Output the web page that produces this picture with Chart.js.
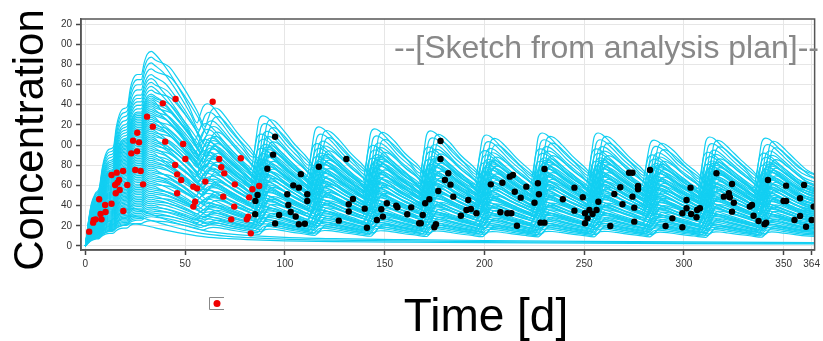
<!DOCTYPE html>
<html>
<head>
<meta charset="utf-8">
<script src="https://cdn.jsdelivr.net/npm/chart.js@4.4.1/dist/chart.umd.min.js"></script>
<style>
  html, body { margin: 0; padding: 0; background: #fff; }
  #wrap { width: 823px; height: 341px; position: relative; }
</style>
</head>
<body>
<div id="wrap"><canvas id="pkChart" width="823" height="341"></canvas></div>
<script>
// ──── data ─────────────────────────────────────────────────────

const xTickValues = [0, 50, 100, 150, 200, 250, 300, 350, 364];
const yTickValues = [0, 20, 40, 60, 80, 100, 120, 140, 160, 180, 200, 220];
// the left digits are cut off in the sketch
const yTickLabels = ["0", "20", "40", "60", "80", "00", "20", "40", "60", "80", "00", "20"];

// top simulated profile [day, concentration]: weekly loading, then every 28 days
const refProfile = [
  [0, 0], [1.5, 24], [3, 42], [5, 52], [7, 58],
  [8.5, 78], [10, 90], [12, 96], [14, 98],
  [15.5, 118], [17, 130], [19, 136], [21, 138],
  [22.5, 156], [24, 166], [26, 170], [28, 170],
  [29.5, 182], [31, 190], [33, 193], [35, 190],
  [38, 183], [42, 172], [47, 156], [52, 138],
  [56, 122], [57.5, 130], [59, 138], [61, 141], [63, 139.5], [67, 130], [72, 116], [78, 102],
  [84, 88], [85.5, 106], [87, 125], [89, 129], [91, 127.5], [95, 119], [100, 106], [106, 93],
  [112, 80], [113.5, 97], [115, 114], [117, 118], [119, 116.5], [123, 109], [128, 97], [134, 85],
  [140, 74], [141.5, 93], [143, 112], [145, 116], [147, 114.5], [151, 107], [156, 95], [162, 84],
  [168, 72], [169.5, 91], [171, 110], [173, 114], [175, 112.5], [179, 105], [184, 93], [190, 82],
  [196, 71], [197.5, 89], [199, 106], [201, 110], [203, 108.5], [207, 101], [212, 90], [218, 79],
  [224, 69], [225.5, 88], [227, 108], [229, 112], [231, 110.5], [235, 103], [240, 92], [246, 81],
  [252, 70], [253.5, 89], [255, 108], [257, 112], [259, 110.5], [263, 103], [268, 92], [274, 81],
  [280, 70], [281.5, 86], [283, 101], [285, 105], [287, 103.5], [291, 97], [296, 86], [302, 76],
  [308, 66], [309.5, 85], [311, 104], [313, 108], [315, 106.5], [319, 99], [324, 89], [330, 78],
  [336, 67], [337.5, 85], [339, 103], [341, 107], [343, 105.5], [347, 98], [352, 88], [358, 77], [366, 70]
];

// each simulated subject: level relative to the top profile, and dose-day offset
const subjectLevel = [
  1.0, 0.97, 0.94, 0.91, 0.88, 0.86, 0.84, 0.82, 0.8, 0.78,
  0.77, 0.76, 0.75, 0.74, 0.73, 0.72, 0.71, 0.7, 0.69, 0.68,
  0.67, 0.66, 0.65, 0.64, 0.63, 0.62, 0.61, 0.6, 0.59, 0.58,
  0.57, 0.56, 0.55, 0.54, 0.53, 0.52, 0.51, 0.5, 0.49, 0.48,
  0.47, 0.46, 0.45, 0.44, 0.43, 0.42, 0.41, 0.4, 0.39, 0.38,
  0.37, 0.36, 0.35, 0.34, 0.33, 0.32, 0.31, 0.3, 0.29, 0.28,
  0.27, 0.26, 0.25, 0.24, 0.23, 0.22, 0.21, 0.2, 0.19, 0.18,
  0.17, 0.16, 0.15, 0.13
];
const subjectShift = [
  0, 4, 1, 5, 2, -1, 3, 0, 5, 1,
  4, 2, -1, 3, 1, 5, 0, 4, 2, 3,
  -1, 1, 5, 0, 4, 2, 3, 0, 5, 1,
  4, -1, 2, 3, 1, 5, 0, 4, 2, -1,
  3, 0, 5, 1, 4, 2, 3, -1, 1, 5,
  0, 4, 2, 3, 0, 5, -1, 1, 4, 2,
  3, 0, 5, 1, 4, 2, -1, 3, 0, 5,
  1, 4, 2, 3
];

// subjects that only got the loading doses and wash out
const washoutProfile = [
  [0, 0], [3, 9], [7, 15], [10, 22], [14, 27], [17, 32], [21, 36], [24, 37], [28, 35],
  [35, 30], [42, 25], [50, 20], [60, 15], [72, 12], [85, 10], [100, 8.5], [125, 7.2],
  [160, 6.2], [200, 5.4], [250, 4.6], [300, 4], [366, 3.4]
];
const washoutLevel = [1.0, 0.8, 0.6];

// observed concentrations, loading phase (red)
const redDay = [
  1.9, 3.9, 4.2, 5.2, 7.6, 8.1, 6.9, 9.9, 10.1, 13.1,
  13.1, 14.9, 15.2, 15.7, 16.1, 16.9, 17.2, 18.9, 19.0, 21.0,
  23.0, 23.9, 25.0, 26.0, 25.9, 26.9, 27.7, 28.9, 30.9, 33.8,
  38.8, 45.2, 40.0, 45.0, 46.0, 46.0, 48.0, 49.0, 50.1, 54.1,
  56.0, 55.0, 54.1, 60.1, 63.8, 67.1, 68.1, 69.6, 69.1, 74.9,
  74.6, 73.1, 77.9, 80.9, 81.6, 82.1, 83.7, 87.1, 82.9
];
const redConc = [
  14.2, 23.1, 25.8, 26.4, 31.7, 26.4, 46.3, 40.6, 33.7, 41.9,
  70.4, 60.5, 52.2, 72.7, 62.8, 65.4, 55.5, 74.3, 34.7, 60.5,
  91.8, 104.4, 75.3, 112.3, 93.8, 102.7, 74.3, 61.1, 128.2, 118.3,
  141.4, 145.7, 103.4, 80.3, 71.0, 52.2, 65.4, 101.1, 86.2, 58.8,
  57.1, 43.9, 39.0, 63.8, 143.0, 86.2, 78.0, 72.0, 48.9, 61.1,
  39.0, 26.4, 86.9, 26.4, 29.1, 48.2, 56.2, 59.5, 12.5
];

// observed concentrations, maintenance phase (black)
const blackDay = [
  95.1, 94.1, 91.2, 86.3, 85.2, 85.1, 95.1, 97.1, 101.2, 101.7,
  102.9, 104.2, 107.0, 108.0, 105.4, 107.0, 110.0, 111.2, 111.2, 117.0,
  127.0, 130.8, 132.0, 132.0, 134.1, 140.0, 141.1, 146.1, 148.3, 149.1,
  151.1, 155.8, 156.4, 161.3, 163.3, 167.3, 168.1, 169.1, 170.3, 172.4,
  174.9, 175.7, 176.9, 178.0, 178.0, 180.2, 181.9, 183.0, 184.4, 188.2,
  191.0, 191.9, 193.2, 196.0, 203.2, 208.0, 209.0, 211.5, 212.7, 213.5,
  214.3, 215.2, 216.3, 218.2, 221.0, 230.1, 226.8, 227.3, 225.1, 228.1,
  230.1, 239.3, 245.1, 245.1, 249.3, 250.4, 250.4, 251.7, 252.6, 254.2,
  256.2, 257.1, 263.1, 265.1, 268.1, 269.2, 272.5, 274.2, 274.2, 275.1,
  275.1, 277.0, 277.0, 283.0, 290.8, 294.2, 299.2, 299.2, 301.3, 301.3,
  303.3, 303.6, 306.3, 306.6, 308.0, 316.3, 320.0, 322.5, 323.0, 324.1,
  324.1, 325.0, 333.0, 334.1, 334.9, 337.4, 340.4, 341.2, 342.1, 349.9,
  351.2, 351.2, 355.4, 358.2, 358.2, 360.2, 361.2, 364.0, 365.0
];
const blackConc = [
  108.3, 90.5, 76.5, 50.5, 44.6, 31.4, 22.2, 30.7, 51.2, 40.6,
  33.7, 60.1, 57.8, 71.2, 29.2, 21.5, 22.0, 51.3, 44.6, 78.6,
  25.1, 86.2, 41.3, 34.1, 46.6, 37.0, 18.1, 25.8, 36.4, 29.1,
  42.3, 40.0, 38.3, 31.4, 38.3, 22.5, 22.5, 30.7, 42.3, 46.3,
  18.5, 21.5, 54.5, 104.1, 86.2, 65.4, 72.1, 60.8, 48.9, 30.0,
  35.7, 45.6, 36.7, 32.4, 61.1, 33.4, 62.7, 32.4, 68.7, 32.4,
  70.4, 53.8, 20.1, 47.9, 58.8, 76.3, 62.1, 51.2, 42.9, 23.1,
  23.1, 46.3, 57.8, 35.0, 48.3, 32.4, 22.5, 27.4, 35.7, 31.7,
  35.7, 43.9, 19.8, 51.5, 58.2, 41.3, 72.6, 72.6, 48.9, 38.0,
  24.1, 59.5, 56.2, 75.3, 19.8, 27.4, 18.5, 32.4, 45.6, 37.4,
  57.8, 31.7, 28.4, 35.7, 37.4, 72.1, 48.9, 52.2, 48.3, 61.4,
  34.0, 42.9, 39.0, 40.6, 30.0, 24.8, 21.5, 23.1, 65.4, 44.6,
  44.6, 59.8, 25.8, 47.3, 29.7, 60.5, 19.1, 25.8, 39.0
];

// ──── datasets ────────────────────────────────────────────────

const LINE_COLOR = "#12cff2";

function subjectPoints(level, shift) {
  // loading phase is the same for everyone, later doses drift a few days
  return refProfile.map(([d, c]) => ({ x: d >= 36 ? d + shift : d, y: c * level }));
}

function lineDataset(data) {
  return {
    data, showLine: true, pointRadius: 0, borderColor: LINE_COLOR, borderWidth: 1.2,
    cubicInterpolationMode: "monotone", order: 2,
  };
}

function pointDataset(days, conc, color) {
  return {
    data: days.map((d, i) => ({ x: d, y: conc[i] })),
    showLine: false, pointRadius: 3.2, pointBorderWidth: 0,
    backgroundColor: color, borderColor: color, order: 0,
  };
}

const datasets = [
  pointDataset(redDay, redConc, "#f00000"),
  pointDataset(blackDay, blackConc, "#000000"),
];
subjectLevel.forEach((lvl, i) => datasets.push(lineDataset(subjectPoints(lvl, subjectShift[i]))));
washoutLevel.forEach((lvl) => datasets.push(lineDataset(washoutProfile.map(([d, c]) => ({ x: d, y: c * lvl })))));

// ──── titles, frame and the small legend box ─────────────────

const decorPlugin = {
  id: "decor",
  afterDraw(chart) {
    const { ctx, chartArea: a } = chart;
    ctx.save();
    ctx.strokeStyle = "#555";
    ctx.lineWidth = 1.5;
    ctx.strokeRect(a.left, a.top, a.right - a.left, a.bottom - a.top);

    ctx.fillStyle = "#888";
    ctx.font = "32px 'Liberation Sans', Arial, sans-serif";
    ctx.textAlign = "right";
    ctx.textBaseline = "alphabetic";
    ctx.fillText("--[Sketch from analysis plan]--", 819, 58);

    ctx.fillStyle = "#000";
    ctx.font = "46px 'Liberation Sans', Arial, sans-serif";
    ctx.textAlign = "center";
    ctx.fillText("Time [d]", 486, 331);

    ctx.font = "42px 'Liberation Sans', Arial, sans-serif";
    ctx.translate(43, 140);
    ctx.rotate(-Math.PI / 2);
    ctx.fillText("Concentration", 0, 0);
    ctx.restore();

    ctx.save();
    ctx.strokeStyle = "#888";
    ctx.lineWidth = 1;
    ctx.beginPath();
    ctx.moveTo(224, 297.5); ctx.lineTo(209.5, 297.5); ctx.lineTo(209.5, 309.5); ctx.lineTo(224, 309.5);
    ctx.stroke();
    ctx.fillStyle = "#f00000";
    ctx.beginPath();
    ctx.arc(217, 303.5, 3.5, 0, Math.PI * 2);
    ctx.fill();
    ctx.restore();
  },
};

// ──── chart ───────────────────────────────────────────────────

const tickFont = { family: "'Liberation Sans Narrow', 'Liberation Sans', Arial, sans-serif", size: 10 };

new Chart(document.getElementById("pkChart").getContext("2d"), {
  type: "scatter",
  data: { datasets },
  options: {
    responsive: false,
    animation: false,
    devicePixelRatio: 1,
    layout: { padding: { left: 0, top: 19, right: 5, bottom: 0 } },
    plugins: { legend: { display: false }, tooltip: { enabled: false } },
    scales: {
      x: {
        type: "linear", min: -2.2, max: 365.5,
        afterBuildTicks: (s) => { s.ticks = xTickValues.map((v) => ({ value: v })); },
        afterFit: (s) => { s.height = 91; },
        ticks: { font: tickFont, color: "#333", padding: 3, maxRotation: 0, autoSkip: false, callback: (v) => String(v) },
        grid: { color: "#e6e6e6", tickColor: "#444", tickLength: 5, tickWidth: 1.5 },
        border: { color: "#555", width: 1.5 },
      },
      y: {
        type: "linear", min: -4, max: 225,
        afterBuildTicks: (s) => { s.ticks = yTickValues.map((v) => ({ value: v })); },
        afterFit: (s) => { s.width = 81; },
        ticks: { font: tickFont, color: "#333", padding: 4, autoSkip: false, callback: (v, i) => yTickLabels[i] },
        grid: { color: "#e6e6e6", tickColor: "#444", tickLength: 5, tickWidth: 1.5 },
        border: { color: "#555", width: 1.5 },
      },
    },
  },
  plugins: [decorPlugin],
});
</script>
</body>
</html>
